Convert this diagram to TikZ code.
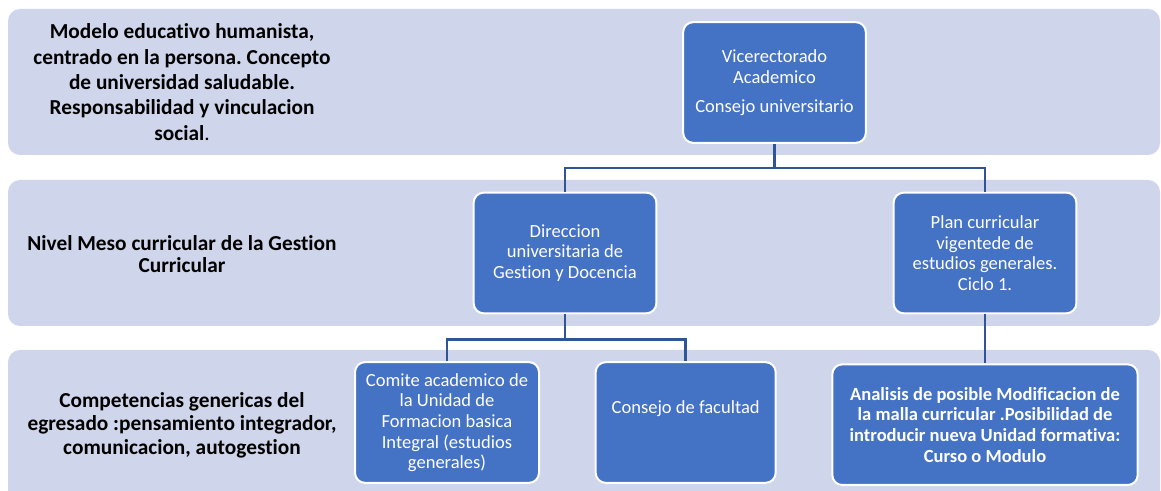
\documentclass[tikz,border=0pt]{standalone}
\usepackage{fontspec}
\setmainfont{Carlito}[Ligatures=NoCommon]
\usepackage{xcolor}
\usepackage{tikz}
\usetikzlibrary{positioning}
\definecolor{bandfill}{HTML}{CFD5EA}
\definecolor{unitblue}{HTML}{4472C4}
\definecolor{linkblue}{HTML}{2F5597}
\frenchspacing

\begin{document}
\begin{tikzpicture}[
    x=0.75pt, y=-0.75pt,
    band/.style={fill=bandfill, rounded corners=9pt},
    unit/.style={rectangle, draw=white, line width=1.5pt, fill=unitblue, rounded corners=7.5pt, text=white, align=center, minimum width=137pt, minimum height=90.5pt, inner sep=2pt, font=\fontsize{13.9}{15.5}\selectfont},
    level/.style={font=\bfseries\fontsize{16}{19}\selectfont, align=center},
    link/.style={draw=linkblue, line width=1.8pt}
]
    \useasboundingbox (0,0) rectangle (1161,491);

    % Background bands (one per level)
    \fill [band] (8,9) rectangle (1160,155);
    \fill [band] (8,180) rectangle (1160,326);
    \fill [band] (8,350) rectangle (1160,505);

    % Level descriptions (left column)
    \node [level] (modelo) at (182,82) {Modelo educativo humanista,\\centrado en la persona. Concepto\\de universidad saludable.\\Responsabilidad y vinculacion\\social{\mdseries.}};
    \node [level, font=\bfseries\fontsize{16}{16.5}\selectfont] (nivel) at (182,254) {Nivel Meso curricular de la Gestion\\Curricular};
    \node [level, font=\bfseries\fontsize{16}{17.5}\selectfont] (competencias) at (182,425) {Competencias genericas del\\egresado :pensamiento integrador,\\comunicacion, autogestion};

    % Units (stacked by level)
    \node [unit] (vice) at (774.5,82.5) {Vicerectorado\\Academico\\[6pt]Consejo universitario};
    \node [unit] (direccion) at (565,253) {Direccion\\universitaria de\\Gestion y Docencia};
    \node [unit] (plan) at (985,253) {Plan curricular\\vigentede de\\estudios generales.\\Ciclo 1.};
    \node [unit, minimum width=138pt] (comite) at (447,422.5) {Comite academico de\\la Unidad de\\Formacion basica\\Integral (estudios\\generales)};
    \node [unit, minimum width=135pt, text height=10pt, text depth=23pt, right=41pt of comite] (consejo) {Consejo de facultad};
    \node [unit, minimum width=229pt, font=\bfseries\fontsize{13.9}{15.5}\selectfont, below=36.75pt of plan] (analisis) {Analisis de posible Modificacion de\\la malla curricular .Posibilidad de\\introducir nueva Unidad formativa:\\Curso o Modulo};

    %--- Hierarchy connectors ---
    \draw [link] (vice.south) -- ++(0,24) -| (direccion.north);
    \draw [link] (vice.south) -- ++(0,24) -| (plan.north);
    \draw [link] (direccion.south) -- ++(0,25) -| (comite.north);
    \draw [link] (direccion.south) -- ++(0,25) -| (consejo.north);
    \draw [link] (plan.south) -- (analisis.north);

\end{tikzpicture}
\end{document}
